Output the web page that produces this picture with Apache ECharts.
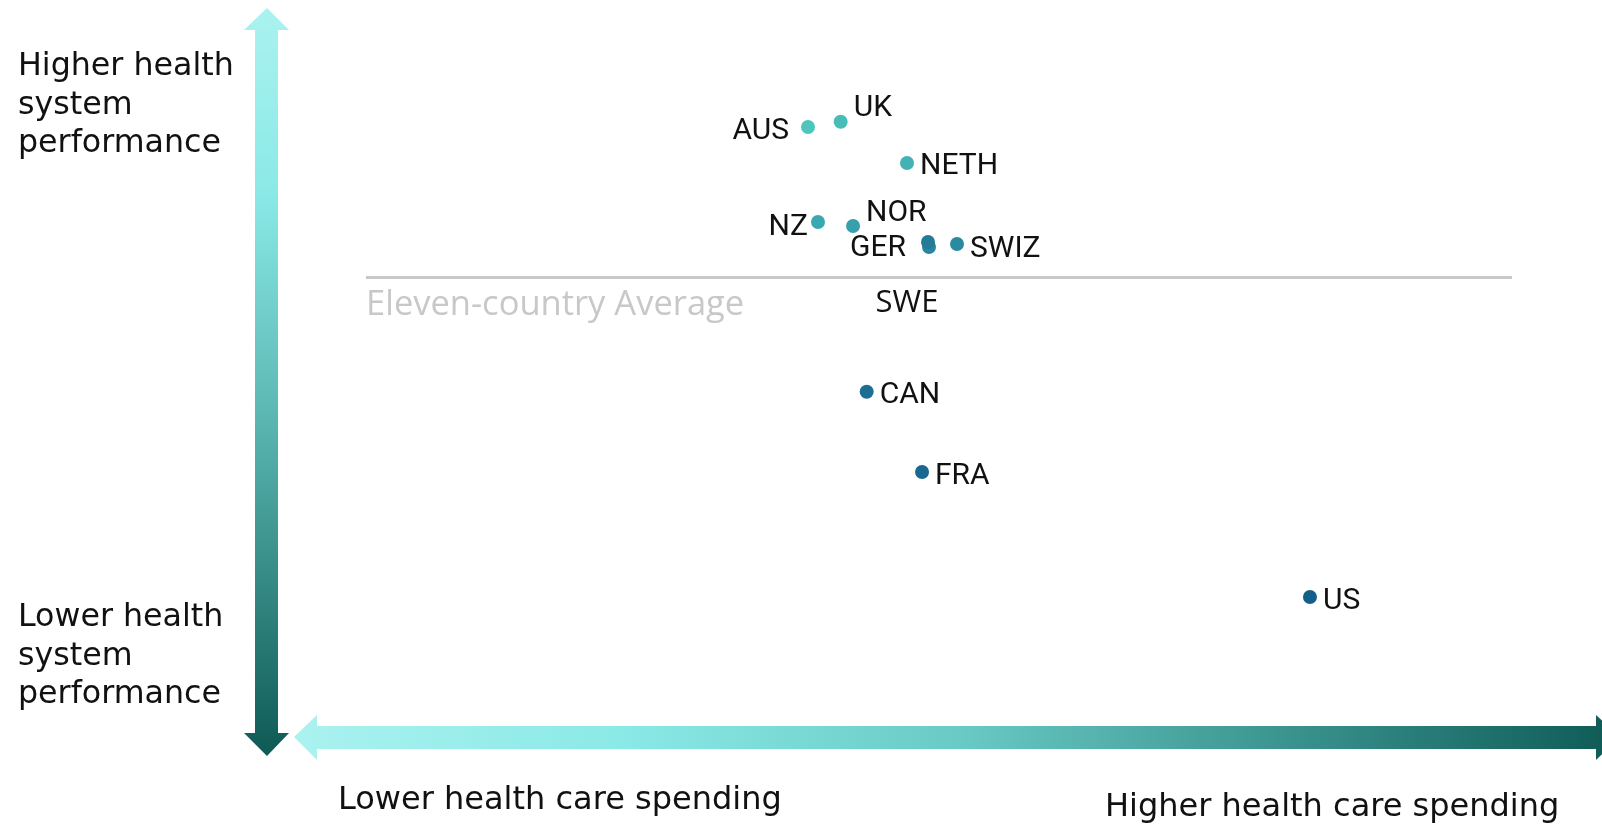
<!DOCTYPE html>
<html>
<head>
<meta charset="utf-8">
<script src="https://cdn.jsdelivr.net/npm/echarts@6/dist/echarts.min.js"></script>
<style>
html,body{margin:0;padding:0;background:#fff;}
#chart{width:1602px;height:825px;}
</style>
</head>
<body>
<div id="chart"></div>
<script>
// ---- data (arbitrary index units) ----
var countries   = ['AUS', 'UK', 'NETH', 'NZ', 'NOR', 'SWE', 'GER', 'SWIZ', 'CAN', 'FRA', 'US'];
var spending    = [38.57, 41.42, 47.21, 39.44, 42.50, 49.13, 49.04, 51.57, 43.69, 48.52, 82.37];
var performance = [0.375, 0.388, 0.285, 0.1375, 0.1275, 0.075, 0.0875, 0.0825, -0.287, -0.4875, -0.80];
var averageValue = 0;
var averageLabel = 'Eleven-country Average';
var yTopText = 'Higher health\nsystem\nperformance';
var yBottomText = 'Lower health\nsystem\nperformance';
var xLeftText = 'Lower health care spending';
var xRightText = 'Higher health care spending';

// ---- styles ----
var dotColors = {
  AUS: '#4ec6be', UK: '#48bdb8', NETH: '#42b2b4', NZ: '#3aa8b0', NOR: '#37a0ab',
  GER: '#237b98', SWE: '#2a85a0', SWIZ: '#2a8ba0', CAN: '#1c6e93', FRA: '#1a6890', US: '#145e8a'
};
var labelPlace = {
  AUS:  {position: 'left', distance: 12, offset: [0, 4]},
  UK:   {position: 'right', distance: 6, offset: [0, -13]},
  NETH: {position: 'right', distance: 6, offset: [0, 3]},
  NZ:   {position: 'left', distance: 3, offset: [0, 5]},
  NOR:  {position: 'right', distance: 6, offset: [0, -13]},
  GER:  {position: 'left', distance: 15, offset: [0, 6]},
  SWE:  {position: 'inside', offset: [-22, 56], fontFamily: 'Open Sans', fontSize: 31},
  SWIZ: {position: 'right', distance: 6, offset: [0, 5]},
  CAN:  {position: 'right', distance: 6, offset: [0, 4]},
  FRA:  {position: 'right', distance: 6, offset: [0, 4]},
  US:   {position: 'right', distance: 6, offset: [0, 4]}
};

var points = countries.map(function (c, i) {
  var lp = labelPlace[c];
  var lbl = {show: true, position: lp.position, offset: lp.offset, formatter: c};
  if (lp.distance !== undefined) lbl.distance = lp.distance;
  if (lp.fontFamily) lbl.fontFamily = lp.fontFamily;
  if (lp.fontSize) lbl.fontSize = lp.fontSize;
  return {name: c, value: [spending[i], performance[i]], itemStyle: {color: dotColors[c], opacity: 1}, label: lbl};
});

var vGrad = new echarts.graphic.LinearGradient(0, 0, 0, 1, [
  {offset: 0, color: '#aaf2f0'}, {offset: 0.25, color: '#8ae9e6'},
  {offset: 0.55, color: '#5ab6b1'}, {offset: 1, color: '#0e5a55'}
]);
var hGrad = new echarts.graphic.LinearGradient(0, 0, 1, 0, [
  {offset: 0, color: '#aaf2f0'}, {offset: 0.25, color: '#8ae9e6'},
  {offset: 0.5, color: '#6acac5'}, {offset: 0.75, color: '#3a938f'}, {offset: 1, color: '#0e5a55'}
]);

var chart = echarts.init(document.getElementById('chart'), null, {renderer: 'canvas'});
chart.setOption({
  animation: false,
  grid: {left: 366, right: 90, top: 77, bottom: 148},
  xAxis: {type: 'value', min: 0, max: 100, show: false},
  yAxis: {type: 'value', min: -1, max: 0.5, show: false},
  series: [{
    type: 'scatter',
    symbolSize: 14,
    itemStyle: {opacity: 1},
    data: points,
    label: {color: '#111', fontFamily: 'Roboto', fontSize: 30},
    markLine: {
      silent: true,
      symbol: 'none',
      lineStyle: {color: '#c8c8c8', width: 3, type: 'solid'},
      label: {show: false},
      data: [{yAxis: averageValue}]
    }
  }],
  graphic: [
    {type: 'polygon', z: 1, shape: {points: [[267, 8], [289, 30], [278, 30], [278, 733], [289, 733], [267, 756], [244, 733], [255, 733], [255, 30], [244, 30]]}, style: {fill: vGrad}},
    {type: 'polygon', z: 1, shape: {points: [[294, 737], [317, 715], [317, 726], [1596, 726], [1596, 715], [1620, 737], [1596, 760], [1596, 749], [317, 749], [317, 760]]}, style: {fill: hGrad}},
    {type: 'text', left: 366, top: 288, style: {text: averageLabel, fill: '#c8c8c8', font: '34.5px "Open Sans"'}},
    {type: 'text', left: 18, top: 48, style: {text: yTopText, fill: '#111', font: '31.7px "DejaVu Sans"', lineHeight: 38.5}},
    {type: 'text', left: 18, top: 599, style: {text: yBottomText, fill: '#111', font: '31.7px "DejaVu Sans"', lineHeight: 38.5}},
    {type: 'text', left: 338, top: 785, style: {text: xLeftText, fill: '#111', font: '32px "DejaVu Sans"'}},
    {type: 'text', left: 1105, top: 792, style: {text: xRightText, fill: '#111', font: '32px "DejaVu Sans"'}}
  ]
});
</script>
</body>
</html>
